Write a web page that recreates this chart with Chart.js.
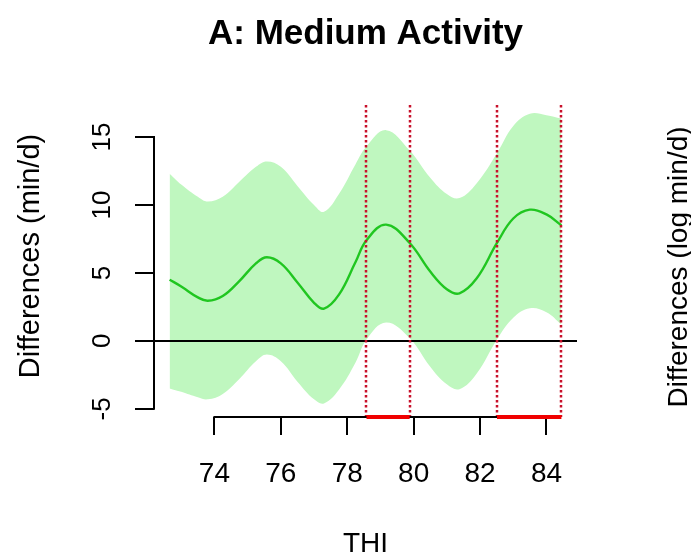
<!DOCTYPE html>
<html>
<head>
<meta charset="utf-8">
<script src="https://cdn.jsdelivr.net/npm/chart.js@4.4.1/dist/chart.umd.min.js"></script>
<style>
  body { margin: 0; background: #fff; }
  #wrap { width: 691px; height: 556px; position: relative; }
</style>
</head>
<body>
<div id="wrap"><canvas id="thiChart"></canvas></div>
<script>
// THI grid and smooth estimate with its confidence band
const thi = [72.65, 73.0, 73.5, 73.8, 74.25, 74.75, 75.25, 75.58, 76.0, 76.5, 77.0, 77.3, 77.75,
             78.25, 78.58, 79.17, 79.88, 80.5, 81.0, 81.38, 81.9, 82.51, 83.0, 83.5, 84.0, 84.45];
const fitted = [4.5, 4.0, 3.2, 2.95, 3.3, 4.4, 5.7, 6.15, 5.7, 4.3, 2.8, 2.37, 3.4,
                5.8, 7.4, 8.55, 7.2, 5.1, 3.8, 3.5, 4.6, 7.2, 9.0, 9.65, 9.3, 8.5];
const upper = [12.3, 11.5, 10.6, 10.25, 10.6, 11.7, 12.8, 13.2, 12.8, 11.4, 10.0, 9.5, 10.8,
               13.0, 14.3, 15.5, 14.0, 12.0, 10.8, 10.5, 11.6, 13.8, 15.8, 16.7, 16.6, 16.35];
const lower = [-3.5, -3.75, -4.15, -4.3, -3.9, -2.8, -1.5, -1.0, -1.5, -3.0, -4.3, -4.6, -3.6,
               -1.6, 0.1, 1.35, 0.2, -1.9, -3.2, -3.55, -2.4, 0.1, 1.7, 2.4, 2.1, 1.2];

// ranges where the lower bound stays above zero
const sigRanges = [[78.58, 79.88], [82.51, 84.45]];

const xTicks = [74, 76, 78, 80, 82, 84];
const yTicks = [-5, 0, 5, 10, 15];

const pts = (vals) => thi.map((t, i) => ({ x: t, y: vals[i] }));

// R style axes, reference lines and labels
const baseAxes = {
    id: 'baseAxes',
    afterDatasetsDraw(chart) {
        const { ctx, chartArea, scales: { x, y } } = chart;
        const font = '"Liberation Sans", Arial, sans-serif';
        ctx.save();

        // zero line
        ctx.strokeStyle = '#000';
        ctx.lineWidth = 2;
        const y0 = Math.round(y.getPixelForValue(0));
        ctx.beginPath();
        ctx.moveTo(chartArea.left, y0);
        ctx.lineTo(chartArea.right, y0);
        ctx.stroke();

        // dotted bounds of significant ranges
        ctx.strokeStyle = '#c8102a';
        ctx.lineWidth = 2.5;
        ctx.setLineDash([2.5, 2.5]);
        sigRanges.forEach(r => r.forEach(v => {
            const px = Math.round(x.getPixelForValue(v));
            ctx.beginPath();
            ctx.moveTo(px, chartArea.top);
            ctx.lineTo(px, chartArea.bottom);
            ctx.stroke();
        }));
        ctx.setLineDash([]);

        // x axis
        ctx.strokeStyle = '#000';
        ctx.lineWidth = 2;
        const xb = Math.round(chartArea.bottom);
        ctx.beginPath();
        ctx.moveTo(x.getPixelForValue(xTicks[0]) - 1, xb);
        ctx.lineTo(x.getPixelForValue(xTicks[xTicks.length - 1]) + 1, xb);
        xTicks.forEach(t => {
            const px = Math.round(x.getPixelForValue(t));
            ctx.moveTo(px, xb);
            ctx.lineTo(px, xb + 18);
        });
        ctx.stroke();

        // y axis
        const yl = Math.round(chartArea.left);
        ctx.beginPath();
        ctx.moveTo(yl, y.getPixelForValue(yTicks[0]) + 1);
        ctx.lineTo(yl, y.getPixelForValue(yTicks[yTicks.length - 1]) - 1);
        yTicks.forEach(t => {
            const py = Math.round(y.getPixelForValue(t));
            ctx.moveTo(yl, py);
            ctx.lineTo(yl - 19, py);
        });
        ctx.stroke();

        // red bars on the x axis
        ctx.strokeStyle = '#f00000';
        ctx.lineWidth = 4;
        sigRanges.forEach(([a, b]) => {
            ctx.beginPath();
            ctx.moveTo(x.getPixelForValue(a), xb);
            ctx.lineTo(x.getPixelForValue(b), xb);
            ctx.stroke();
        });

        // tick labels
        ctx.fillStyle = '#000';
        ctx.font = '28px ' + font;
        ctx.textAlign = 'center';
        ctx.textBaseline = 'alphabetic';
        xTicks.forEach(t => ctx.fillText(String(t), x.getPixelForValue(t), 482));
        ctx.font = '26px ' + font;
        yTicks.forEach(t => {
            ctx.save();
            ctx.translate(110, y.getPixelForValue(t));
            ctx.rotate(-Math.PI / 2);
            ctx.fillText(String(t), 0, 0);
            ctx.restore();
        });

        // axis titles
        ctx.font = '28px ' + font;
        ctx.fillText('THI', (chartArea.left + chartArea.right) / 2, 552);
        ctx.save();
        ctx.translate(39, 256);
        ctx.rotate(-Math.PI / 2);
        ctx.font = '29px ' + font;
        ctx.fillText('Differences (min/d)', 0, 0);
        ctx.restore();

        // y title of the neighbouring panel
        ctx.save();
        ctx.translate(687, 267);
        ctx.rotate(-Math.PI / 2);
        ctx.fillText('Differences (log min/d)', 0, 0);
        ctx.restore();

        // main title
        ctx.font = 'bold 35px ' + font;
        ctx.fillText('A: Medium Activity', (chartArea.left + chartArea.right) / 2, 44);

        ctx.restore();
    }
};

const thiCtx = document.getElementById('thiChart').getContext('2d');
const thiChart = new Chart(thiCtx, {
    type: 'line',
    data: {
        datasets: [{
            label: 'Estimate',
            data: pts(fitted),
            borderColor: '#20c620',
            borderWidth: 2.4,
            pointRadius: 0,
            fill: false,
            tension: 0.4,
            order: 0
        }, {
            label: 'Lower',
            data: pts(lower),
            borderWidth: 0,
            pointRadius: 0,
            fill: false,
            tension: 0.4,
            order: 2
        }, {
            label: 'Upper',
            data: pts(upper),
            borderWidth: 0,
            pointRadius: 0,
            backgroundColor: '#bff7bf',
            fill: '-1',
            tension: 0.4,
            order: 1
        }]
    },
    options: {
        responsive: true,
        maintainAspectRatio: false,
        animation: false,
        layout: {
            padding: { left: 154, right: 114, top: 105, bottom: 139 }
        },
        plugins: {
            legend: { display: false },
            tooltip: { enabled: false }
        },
        scales: {
            x: { type: 'linear', min: 72.18, max: 84.92, display: false },
            y: { min: -5.6, max: 17.35, display: false }
        }
    },
    plugins: [baseAxes]
});
</script>
</body>
</html>
